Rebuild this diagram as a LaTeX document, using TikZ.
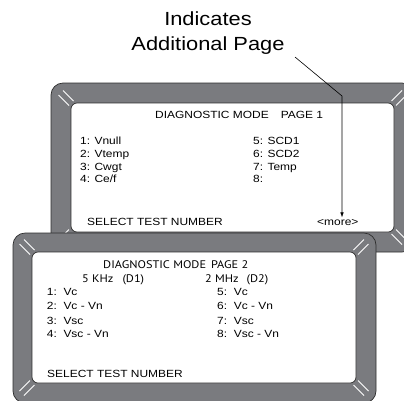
\documentclass[tikz,border=0pt]{standalone}
\usepackage{fontspec}
\setmainfont{Liberation Sans}[FakeStretch=1.15]
\newfontfamily\myriadlike{PT Sans}[FakeStretch=1.12]
\usetikzlibrary{arrows.meta}
\definecolor{framegray}{RGB}{122,123,127}
\definecolor{frameline}{RGB}{45,45,45}
\newcommand\glints[4]{%
  \begin{scope}[shift={(#1,#2)},xscale=#3,yscale=#4]
    \draw[glint] (-2.5,2) -- (8,12.5) (2,-2.5) -- (12.5,8);
  \end{scope}}
\begin{document}
\begin{tikzpicture}[x=1pt,y=-1pt,
  frame/.style={fill=framegray, draw=frameline, line width=0.7pt, rounded corners=12pt},
  panel/.style={fill=white, draw=frameline, line width=0.7pt, rounded corners=6pt},
  glint/.style={draw=white, line width=0.8pt},
  txt/.style={inner sep=0pt, anchor=base west, font=\fontsize{10.4}{12}\selectfont},
  head/.style={txt, font=\fontsize{11}{13}\selectfont\myriadlike},
  callout/.style={inner sep=0pt, align=center, anchor=north, font=\fontsize{19}{25}\selectfont},
  pointer/.style={draw=black, line width=0.6pt, -{Latex[length=5pt,width=3.5pt]}}]
\useasboundingbox (0,0) rectangle (404,400);
\begin{scope}
\clip (0,0) rectangle (404,400);
% back screen (page 1)
\draw[frame] (51,83) rectangle (414,252);
\draw[panel] (71,103) rectangle (394,232);
\glints{71}{103}{-1}{-1}
\glints{394}{103}{1}{-1}
\glints{71}{232}{-1}{1}
\glints{394}{232}{1}{1}
% front screen (page 2)
\draw[frame] (13,233) rectangle (376,403);
\draw[panel] (32,252) rectangle (356,383);
\glints{32}{252}{-1}{-1}
\glints{356}{252}{1}{-1}
\glints{32}{383}{-1}{1}
\glints{356}{383}{1}{1}
\end{scope}

% callout
\node[callout] (lbl) at (208,12) {Indicates\\Additional Page};

% page 1 texts
\node[txt] (h1) at (155,118) {DIAGNOSTIC MODE\hspace{12pt}PAGE 1};
\node[txt] (a1) at (80,144)   {1: Vnull};
\node[txt] (a2) at (80,157.3) {2: Vtemp};
\node[txt] (a3) at (80,170.3) {3: Cwgt};
\node[txt] (a4) at (80,182.7) {4: Ce/f};
\node[txt] (a5) at (253,144)   {5: SCD1};
\node[txt] (a6) at (253,157.3) {6: SCD2};
\node[txt] (a7) at (253,170.3) {7: Temp};
\node[txt] (a8) at (253,182.7) {8:};
\node[txt] (sel1) at (87,225.7) {SELECT TEST NUMBER};
\node[txt] (more) at (317,225.7) {<more>};

% page 2 texts
\node[head] (h2) at (103,268) {DIAGNOSTIC MODE\hspace{5pt}PAGE 2};
\node[head] (d1) at (82,282.7) {5 KHz\hspace{9pt}(D1)};
\node[head] (d2) at (205,282.7) {2 MHz\hspace{8pt}(D2)};
\node[txt] (b1) at (46.7,295.5) {1:\ \ Vc};
\node[txt] (b2) at (46.7,309.3) {2:\ \ Vc - Vn};
\node[txt] (b3) at (46.7,324)   {3:\ \ Vsc};
\node[txt] (b4) at (46.7,337.7) {4:\ \ Vsc - Vn};
\node[txt] (b5) at (217,295.5) {5:\ \ Vc};
\node[txt] (b6) at (217,309.3) {6:\ \ Vc - Vn};
\node[txt] (b7) at (217,324)   {7:\ \ Vsc};
\node[txt] (b8) at (217,337.7) {8:\ \ Vsc - Vn};
\node[txt] (sel2) at (47,377.3) {SELECT TEST NUMBER};

% pointer
\coordinate (lblend) at (295,57);
\coordinate (bend) at (342,96);
\draw[pointer, shorten >=2pt] (lblend) -- (bend) -- (bend |- more.north);
\end{tikzpicture}
\end{document}
